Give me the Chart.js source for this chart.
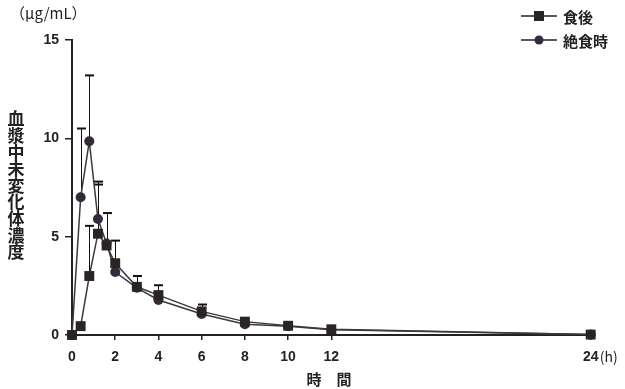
<!DOCTYPE html>
<html>
<head>
<meta charset="utf-8">
<script src="https://cdn.jsdelivr.net/npm/chart.js@4/dist/chart.umd.min.js"></script>
<style>
  html, body { margin: 0; padding: 0; background: #fff; }
  #wrap { width: 625px; height: 389px; }
</style>
</head>
<body>
<div id="wrap"><canvas id="plasmaChart" width="625" height="389"></canvas></div>
<script>
// time points (h)
const hours = [0, 0.4, 0.8, 1.2, 1.6, 2, 3, 4, 6, 8, 10, 12, 24];
const xTickValues = [0, 2, 4, 6, 8, 10, 12, 24];

// mean plasma concentration (µg/mL)
const fedMean     = [0, 0.45, 3.0, 5.15, 4.55, 3.65, 2.45, 2.03, 1.2, 0.68, 0.47, 0.29, 0.02];
const fastedMean  = [0, 7.0, 9.85, 5.9, 4.65, 3.2, 2.4, 1.78, 1.07, 0.55, 0.45, 0.27, 0.02];

// upper SD
const fedSD    = [0, 0, 2.55, 2.5, 1.65, 1.15, 0.55, 0.5, 0.35, 0, 0, 0, 0];
const fastedSD = [0, 3.5, 3.35, 1.9, 0, 0, 0, 0, 0, 0, 0, 0, 0];

const seriesNames = ["食後", "絶食時"];

const ink = "#222";
const lineGray = "#3a3a3a";
const fedFill = "#2a2424";
const fastedFill = "#352a3c";

const toXY = (ys) => hours.map((h, i) => ({ x: h, y: ys[i] }));

// upward error bars
const errorBars = {
  id: "errorBars",
  beforeDatasetsDraw(chart) {
    const { ctx, scales: { x, y } } = chart;
    const sets = [[fedMean, fedSD], [fastedMean, fastedSD]];
    ctx.save();
    ctx.strokeStyle = "#111";
    sets.forEach(([means, sds]) => {
      hours.forEach((h, i) => {
        if (!sds[i]) return;
        const px = Math.round(x.getPixelForValue(h)) + 0.5;
        const y0 = y.getPixelForValue(means[i]);
        const y1 = y.getPixelForValue(means[i] + sds[i]);
        ctx.lineWidth = 1;
        ctx.beginPath();
        ctx.moveTo(px, y0);
        ctx.lineTo(px, y1);
        ctx.stroke();
        ctx.lineWidth = 2;
        ctx.beginPath();
        ctx.moveTo(px - 4.5, y1);
        ctx.lineTo(px + 4.5, y1);
        ctx.stroke();
      });
    });
    ctx.restore();
  }
};

// labels around the plot: unit, y title, x title, (h), legend
const decorations = {
  id: "decorations",
  afterDraw(chart) {
    const { ctx, scales: { x } } = chart;
    ctx.save();
    ctx.fillStyle = ink;
    ctx.textBaseline = "middle";

    ctx.font = "15px 'Noto Sans CJK JP'";
    ctx.textAlign = "left";
    ctx.fillText("（μg/mL）", 10, 13);

    ctx.font = "bold 17px 'Noto Sans CJK JP'";
    ctx.textAlign = "center";
    const yTitle = "血漿中未変化体濃度";
    [...yTitle].forEach((ch, i) => ctx.fillText(ch, 16, 119 + i * 16.6));

    ctx.font = "bold 15px 'Noto Sans CJK JP'";
    ctx.fillText("時　間", 329, 379);

    ctx.font = "14px 'Noto Sans CJK JP'";
    ctx.textAlign = "left";
    ctx.fillText("(h)", x.getPixelForValue(24) + 9, 357);

    // legend
    const items = [
      { name: seriesNames[0], y: 16, shape: "rect", fill: fedFill },
      { name: seriesNames[1], y: 40, shape: "circle", fill: fastedFill }
    ];
    items.forEach(it => {
      ctx.strokeStyle = ink;
      ctx.lineWidth = 1.5;
      ctx.beginPath();
      ctx.moveTo(521, it.y);
      ctx.lineTo(557, it.y);
      ctx.stroke();
      ctx.fillStyle = it.fill;
      if (it.shape === "rect") {
        ctx.fillRect(534, it.y - 5, 10, 10);
      } else {
        ctx.beginPath();
        ctx.arc(539, it.y, 4.5, 0, Math.PI * 2);
        ctx.fill();
      }
      ctx.fillStyle = ink;
      ctx.font = "bold 15px 'Noto Sans CJK JP'";
      ctx.textAlign = "left";
      ctx.fillText(it.name, 563, it.y + 1);
    });
    ctx.restore();
  }
};

const ctx = document.getElementById("plasmaChart").getContext("2d");

const tickFont = { family: "'Liberation Sans', sans-serif", size: 14, weight: "bold" };

new Chart(ctx, {
  type: "line",
  data: {
    datasets: [
      {
        label: seriesNames[0],
        data: toXY(fedMean),
        borderColor: lineGray,
        borderWidth: 1.5,
        pointStyle: "rect",
        pointRadius: 7,
        pointBackgroundColor: fedFill,
        pointBorderColor: fedFill,
        pointBorderWidth: 0,
        fill: false,
        tension: 0,
        clip: false
      },
      {
        label: seriesNames[1],
        data: toXY(fastedMean),
        borderColor: lineGray,
        borderWidth: 1.5,
        pointStyle: "circle",
        pointRadius: 5,
        pointBackgroundColor: fastedFill,
        pointBorderColor: fastedFill,
        pointBorderWidth: 0,
        fill: false,
        tension: 0,
        clip: false
      }
    ]
  },
  options: {
    responsive: false,
    animation: false,
    layout: { padding: { left: 0, right: 30, top: 40, bottom: 0 } },
    plugins: {
      legend: { display: false },
      tooltip: { enabled: false }
    },
    scales: {
      x: {
        type: "linear",
        min: 0,
        max: 24.2,
        afterFit: s => { s.height = 54; },
        afterBuildTicks: s => { s.ticks = xTickValues.map(v => ({ value: v })); },
        border: { color: ink, width: 2 },
        grid: { drawOnChartArea: false, color: ink, tickLength: 5, lineWidth: 1.5 },
        ticks: {
          color: ink,
          padding: 9,
          maxRotation: 0,
          autoSkip: false,
          font: tickFont
        }
      },
      y: {
        min: 0,
        max: 15,
        afterFit: s => { s.width = 72; },
        border: { color: ink, width: 2 },
        grid: { drawOnChartArea: false, color: ink, tickLength: 7, lineWidth: 1.5 },
        ticks: {
          stepSize: 5,
          color: ink,
          padding: 6,
          font: tickFont
        }
      }
    }
  },
  plugins: [errorBars, decorations]
});
</script>
</body>
</html>
